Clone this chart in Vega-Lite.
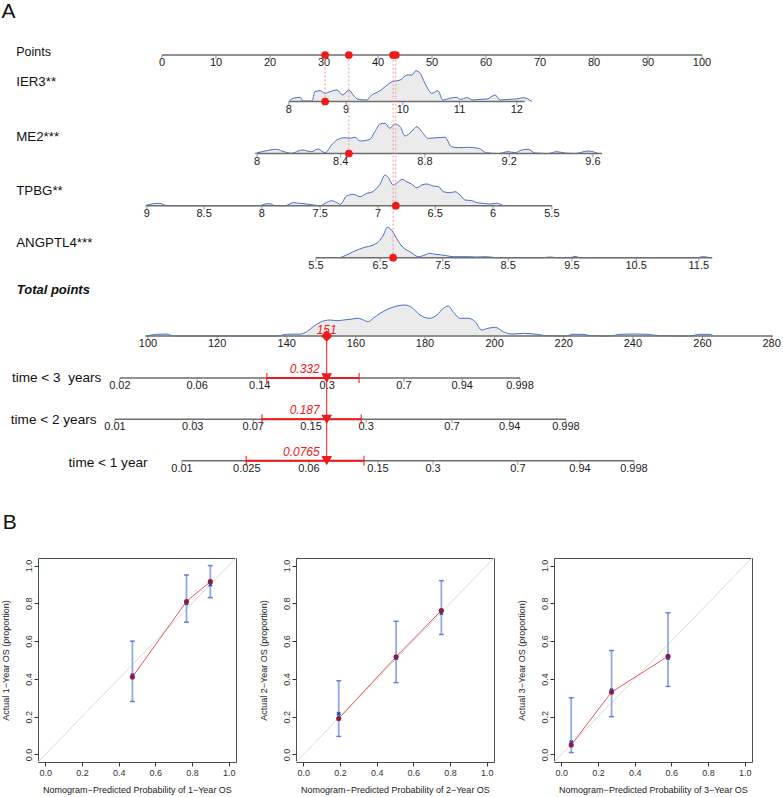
{
"$schema": "https://vega.github.io/schema/vega-lite/v6.json",
"padding": 0,
"background": "white",
"spacing": 5,
"datasets": {
"axes": [
{"row":"Points","from":0,"to":100,"y":55},
{"row":"IER3","from":23.5,"to":67.2,"y":101.5},
{"row":"ME2","from":17.6,"to":81.5,"y":153.5},
{"row":"TPBG","from":-2.8,"to":72.2,"y":205.7},
{"row":"ANGPTL4","from":28.5,"to":101.9,"y":257.7},
{"row":"Total","from":-3.1,"to":113.1,"y":336},
{"row":"t3","from":-7.8,"to":66.3,"y":378},
{"row":"t2","from":-8.7,"to":74.8,"y":419.3},
{"row":"t1","from":3.7,"to":87.4,"y":460.7}
],
"ticks": [
{"row":"Points","p":0,"label":"0"},{"row":"Points","p":10,"label":"10"},{"row":"Points","p":20,"label":"20"},{"row":"Points","p":30,"label":"30"},{"row":"Points","p":40,"label":"40"},{"row":"Points","p":50,"label":"50"},{"row":"Points","p":60,"label":"60"},{"row":"Points","p":70,"label":"70"},{"row":"Points","p":80,"label":"80"},{"row":"Points","p":90,"label":"90"},{"row":"Points","p":100,"label":"100"},
{"row":"IER3","p":23.5,"label":"8"},{"row":"IER3","p":34.1,"label":"9"},{"row":"IER3","p":44.6,"label":"10"},{"row":"IER3","p":55.1,"label":"11"},{"row":"IER3","p":65.7,"label":"12"},
{"row":"ME2","p":17.6,"label":"8"},{"row":"ME2","p":33.1,"label":"8.4"},{"row":"ME2","p":48.7,"label":"8.8"},{"row":"ME2","p":64.3,"label":"9.2"},{"row":"ME2","p":79.8,"label":"9.6"},
{"row":"TPBG","p":-2.8,"label":"9"},{"row":"TPBG","p":7.8,"label":"8.5"},{"row":"TPBG","p":18.5,"label":"8"},{"row":"TPBG","p":29.3,"label":"7.5"},{"row":"TPBG","p":40.0,"label":"7"},{"row":"TPBG","p":50.6,"label":"6.5"},{"row":"TPBG","p":61.3,"label":"6"},{"row":"TPBG","p":72.2,"label":"5.5"},
{"row":"ANGPTL4","p":28.5,"label":"5.5"},{"row":"ANGPTL4","p":40.4,"label":"6.5"},{"row":"ANGPTL4","p":52.0,"label":"7.5"},{"row":"ANGPTL4","p":64.1,"label":"8.5"},{"row":"ANGPTL4","p":75.9,"label":"9.5"},{"row":"ANGPTL4","p":87.8,"label":"10.5"},{"row":"ANGPTL4","p":99.4,"label":"11.5"},
{"row":"Total","p":-2.6,"label":"100"},{"row":"Total","p":10.2,"label":"120"},{"row":"Total","p":23.1,"label":"140"},{"row":"Total","p":35.9,"label":"160"},{"row":"Total","p":48.7,"label":"180"},{"row":"Total","p":61.6,"label":"200"},{"row":"Total","p":74.4,"label":"220"},{"row":"Total","p":87.2,"label":"240"},{"row":"Total","p":100.1,"label":"260"},{"row":"Total","p":112.9,"label":"280"},
{"row":"t3","p":-7.8,"label":"0.02"},{"row":"t3","p":6.5,"label":"0.06"},{"row":"t3","p":18.1,"label":"0.14"},{"row":"t3","p":30.6,"label":"0.3"},{"row":"t3","p":44.8,"label":"0.7"},{"row":"t3","p":55.6,"label":"0.94"},{"row":"t3","p":66.3,"label":"0.998"},
{"row":"t2","p":-8.7,"label":"0.01"},{"row":"t2","p":5.7,"label":"0.03"},{"row":"t2","p":16.9,"label":"0.07"},{"row":"t2","p":27.6,"label":"0.15"},{"row":"t2","p":37.8,"label":"0.3"},{"row":"t2","p":53.7,"label":"0.7"},{"row":"t2","p":64.4,"label":"0.94"},{"row":"t2","p":74.8,"label":"0.998"},
{"row":"t1","p":3.7,"label":"0.01"},{"row":"t1","p":15.7,"label":"0.025"},{"row":"t1","p":27.2,"label":"0.06"},{"row":"t1","p":40.0,"label":"0.15"},{"row":"t1","p":50.2,"label":"0.3"},{"row":"t1","p":65.9,"label":"0.7"},{"row":"t1","p":77.4,"label":"0.94"},{"row":"t1","p":87.4,"label":"0.998"}
],
"dens": [
{"row":"IER3","p":23.5,"y":101.5},{"row":"IER3","p":24.3,"y":98.3},{"row":"IER3","p":25.6,"y":97.3},{"row":"IER3","p":26.1,"y":101},{"row":"IER3","p":27.8,"y":101},{"row":"IER3","p":28.3,"y":91.7},{"row":"IER3","p":29.3,"y":90.7},{"row":"IER3","p":30.2,"y":93.3},{"row":"IER3","p":31.1,"y":91.7},{"row":"IER3","p":32.4,"y":90},{"row":"IER3","p":33.5,"y":95},{"row":"IER3","p":34.6,"y":90},{"row":"IER3","p":35.4,"y":95},{"row":"IER3","p":36.3,"y":99.3},{"row":"IER3","p":38.0,"y":100},{"row":"IER3","p":38.5,"y":96.7},{"row":"IER3","p":40.4,"y":90.7},{"row":"IER3","p":41.7,"y":85},{"row":"IER3","p":42.6,"y":81.7},{"row":"IER3","p":44.1,"y":80},{"row":"IER3","p":45.4,"y":75},{"row":"IER3","p":46.3,"y":75},{"row":"IER3","p":47.0,"y":70.7},{"row":"IER3","p":47.8,"y":73.3},{"row":"IER3","p":48.7,"y":83.3},{"row":"IER3","p":50.0,"y":93.3},{"row":"IER3","p":51.1,"y":90.7},{"row":"IER3","p":52.0,"y":100},{"row":"IER3","p":53.3,"y":98.3},{"row":"IER3","p":54.6,"y":97.3},{"row":"IER3","p":55.2,"y":99.3},{"row":"IER3","p":56.5,"y":97.7},{"row":"IER3","p":57.6,"y":100},{"row":"IER3","p":58.9,"y":99.3},{"row":"IER3","p":60.2,"y":99},{"row":"IER3","p":61.7,"y":95},{"row":"IER3","p":62.6,"y":100},{"row":"IER3","p":64.4,"y":99.3},{"row":"IER3","p":65.7,"y":99},{"row":"IER3","p":66.9,"y":97.7},{"row":"IER3","p":68.5,"y":101.5},
{"row":"ME2","p":17.2,"y":153.5},{"row":"ME2","p":19.1,"y":151},{"row":"ME2","p":21.2,"y":149.3},{"row":"ME2","p":22.2,"y":151},{"row":"ME2","p":24.0,"y":153.3},{"row":"ME2","p":25.9,"y":150},{"row":"ME2","p":27.7,"y":151.7},{"row":"ME2","p":28.9,"y":149},{"row":"ME2","p":30.2,"y":152.7},{"row":"ME2","p":31.4,"y":145},{"row":"ME2","p":32.6,"y":139.3},{"row":"ME2","p":33.9,"y":137.7},{"row":"ME2","p":34.8,"y":138.3},{"row":"ME2","p":35.7,"y":137.3},{"row":"ME2","p":36.7,"y":141},{"row":"ME2","p":38.5,"y":139.3},{"row":"ME2","p":39.4,"y":131.7},{"row":"ME2","p":40.4,"y":124},{"row":"ME2","p":41.3,"y":123.3},{"row":"ME2","p":42.2,"y":128.3},{"row":"ME2","p":43.1,"y":124},{"row":"ME2","p":44.1,"y":126.7},{"row":"ME2","p":45.0,"y":136},{"row":"ME2","p":46.2,"y":131.7},{"row":"ME2","p":47.2,"y":126.7},{"row":"ME2","p":48.1,"y":131.7},{"row":"ME2","p":49.3,"y":138.3},{"row":"ME2","p":50.9,"y":137.7},{"row":"ME2","p":52.4,"y":137.3},{"row":"ME2","p":53.6,"y":146.7},{"row":"ME2","p":54.9,"y":147.7},{"row":"ME2","p":56.7,"y":147.3},{"row":"ME2","p":58.6,"y":148.3},{"row":"ME2","p":60.1,"y":152.7},{"row":"ME2","p":62.3,"y":153.5},{"row":"ME2","p":64.1,"y":151.7},{"row":"ME2","p":65.4,"y":152.7},{"row":"ME2","p":66.6,"y":150},{"row":"ME2","p":67.8,"y":149.3},{"row":"ME2","p":69.1,"y":153},{"row":"ME2","p":71.5,"y":153.5},{"row":"ME2","p":73.1,"y":151.7},{"row":"ME2","p":74.6,"y":153},{"row":"ME2","p":76.5,"y":153.5},{"row":"ME2","p":78.9,"y":151},{"row":"ME2","p":80.8,"y":153.5},
{"row":"TPBG","p":-3.1,"y":205.7},{"row":"TPBG","p":-1.6,"y":203.7},{"row":"TPBG","p":-0.4,"y":203.3},{"row":"TPBG","p":0.9,"y":205.7},{"row":"TPBG","p":18.1,"y":205.7},{"row":"TPBG","p":19.1,"y":204},{"row":"TPBG","p":20.0,"y":203.7},{"row":"TPBG","p":20.9,"y":205.7},{"row":"TPBG","p":22.8,"y":205.7},{"row":"TPBG","p":24.3,"y":202.7},{"row":"TPBG","p":25.6,"y":203.3},{"row":"TPBG","p":26.8,"y":204},{"row":"TPBG","p":28.0,"y":205},{"row":"TPBG","p":29.3,"y":205.7},{"row":"TPBG","p":30.2,"y":203.3},{"row":"TPBG","p":31.4,"y":200.7},{"row":"TPBG","p":32.4,"y":202.7},{"row":"TPBG","p":33.0,"y":204.3},{"row":"TPBG","p":34.2,"y":196},{"row":"TPBG","p":35.4,"y":194.3},{"row":"TPBG","p":36.7,"y":196.7},{"row":"TPBG","p":37.9,"y":193.3},{"row":"TPBG","p":38.8,"y":192.3},{"row":"TPBG","p":39.4,"y":190},{"row":"TPBG","p":40.4,"y":184},{"row":"TPBG","p":41.3,"y":175},{"row":"TPBG","p":41.9,"y":177.3},{"row":"TPBG","p":42.8,"y":185},{"row":"TPBG","p":43.8,"y":181.7},{"row":"TPBG","p":44.4,"y":179.3},{"row":"TPBG","p":45.3,"y":181.7},{"row":"TPBG","p":46.2,"y":184},{"row":"TPBG","p":47.2,"y":187.7},{"row":"TPBG","p":48.1,"y":185},{"row":"TPBG","p":49.0,"y":184},{"row":"TPBG","p":50.2,"y":186},{"row":"TPBG","p":51.2,"y":186.7},{"row":"TPBG","p":52.1,"y":191.7},{"row":"TPBG","p":53.3,"y":192.7},{"row":"TPBG","p":54.3,"y":191.7},{"row":"TPBG","p":55.2,"y":195},{"row":"TPBG","p":56.1,"y":200},{"row":"TPBG","p":57.4,"y":200.7},{"row":"TPBG","p":58.3,"y":202.7},{"row":"TPBG","p":59.5,"y":203.3},{"row":"TPBG","p":60.7,"y":204},{"row":"TPBG","p":62.0,"y":203.3},{"row":"TPBG","p":63.2,"y":205.7},
{"row":"ANGPTL4","p":33.0,"y":257.7},{"row":"ANGPTL4","p":34.2,"y":255},{"row":"ANGPTL4","p":35.4,"y":251.7},{"row":"ANGPTL4","p":37.3,"y":247.7},{"row":"ANGPTL4","p":39.1,"y":245},{"row":"ANGPTL4","p":40.1,"y":241.7},{"row":"ANGPTL4","p":41.0,"y":235},{"row":"ANGPTL4","p":41.7,"y":227.3},{"row":"ANGPTL4","p":42.5,"y":230},{"row":"ANGPTL4","p":43.1,"y":235},{"row":"ANGPTL4","p":43.8,"y":241.7},{"row":"ANGPTL4","p":44.7,"y":247.7},{"row":"ANGPTL4","p":45.9,"y":251.7},{"row":"ANGPTL4","p":47.5,"y":256.7},{"row":"ANGPTL4","p":48.7,"y":255},{"row":"ANGPTL4","p":49.6,"y":253.3},{"row":"ANGPTL4","p":50.6,"y":254.3},{"row":"ANGPTL4","p":51.8,"y":255},{"row":"ANGPTL4","p":52.7,"y":255.7},{"row":"ANGPTL4","p":53.9,"y":256.7},{"row":"ANGPTL4","p":55.2,"y":256.7},{"row":"ANGPTL4","p":56.7,"y":256.7},{"row":"ANGPTL4","p":58.3,"y":257},{"row":"ANGPTL4","p":60.1,"y":256.7},{"row":"ANGPTL4","p":62.0,"y":257.7},{"row":"ANGPTL4","p":70.6,"y":257.7},{"row":"ANGPTL4","p":71.9,"y":257},{"row":"ANGPTL4","p":73.1,"y":257.7},{"row":"ANGPTL4","p":75.6,"y":257.7},{"row":"ANGPTL4","p":76.5,"y":256.3},{"row":"ANGPTL4","p":77.4,"y":257.7},{"row":"ANGPTL4","p":99.0,"y":257.7},{"row":"ANGPTL4","p":100.2,"y":256.7},{"row":"ANGPTL4","p":101.5,"y":257.7},
{"row":"Total","p":-2.8,"y":336},{"row":"Total","p":-1.0,"y":334.3},{"row":"Total","p":0.9,"y":334},{"row":"Total","p":2.1,"y":336},{"row":"Total","p":21.2,"y":336},{"row":"Total","p":23.1,"y":334.3},{"row":"Total","p":25.6,"y":334},{"row":"Total","p":26.8,"y":331.7},{"row":"Total","p":28.0,"y":326.7},{"row":"Total","p":29.3,"y":322.3},{"row":"Total","p":31.1,"y":320},{"row":"Total","p":32.4,"y":320.7},{"row":"Total","p":33.6,"y":320},{"row":"Total","p":34.8,"y":319.3},{"row":"Total","p":36.4,"y":318.3},{"row":"Total","p":37.3,"y":320},{"row":"Total","p":38.2,"y":321.7},{"row":"Total","p":39.1,"y":318.3},{"row":"Total","p":40.4,"y":313.3},{"row":"Total","p":42.2,"y":308.3},{"row":"Total","p":43.5,"y":306},{"row":"Total","p":45.0,"y":305},{"row":"Total","p":46.2,"y":307.3},{"row":"Total","p":47.8,"y":315},{"row":"Total","p":49.6,"y":318.3},{"row":"Total","p":50.9,"y":315},{"row":"Total","p":52.1,"y":308.3},{"row":"Total","p":53.0,"y":306},{"row":"Total","p":53.9,"y":311.7},{"row":"Total","p":55.2,"y":318.3},{"row":"Total","p":56.7,"y":318.3},{"row":"Total","p":58.0,"y":321.7},{"row":"Total","p":59.2,"y":330},{"row":"Total","p":60.4,"y":328.3},{"row":"Total","p":61.7,"y":327.3},{"row":"Total","p":63.2,"y":331.7},{"row":"Total","p":64.8,"y":334},{"row":"Total","p":66.9,"y":333.3},{"row":"Total","p":69.4,"y":334.3},{"row":"Total","p":71.2,"y":335.7},{"row":"Total","p":74.9,"y":336},{"row":"Total","p":75.9,"y":334.3},{"row":"Total","p":78.0,"y":334.3},{"row":"Total","p":79.3,"y":335.7},{"row":"Total","p":83.0,"y":336},{"row":"Total","p":84.8,"y":334.3},{"row":"Total","p":87.3,"y":334},{"row":"Total","p":89.8,"y":334.3},{"row":"Total","p":92.2,"y":335.7},{"row":"Total","p":97.8,"y":336},{"row":"Total","p":99.6,"y":334.3},{"row":"Total","p":101.5,"y":334.3},{"row":"Total","p":102.1,"y":336}
],
"rowlab": [
{"t":"Points","grp":"pts","p":-27,"y":51.5},
{"t":"IER3**","grp":"var","p":-27,"y":82},
{"t":"ME2***","grp":"var","p":-27,"y":137},
{"t":"TPBG**","grp":"var","p":-27,"y":190.5},
{"t":"ANGPTL4***","grp":"var","p":-27,"y":242.5},
{"t":"Total points","grp":"total","p":-26.9,"y":290},
{"t":"time < 3 \u00a0years","grp":"time","p":-27.8,"y":378},
{"t":"time < 2 years","grp":"time","p":-28,"y":420},
{"t":"time < 1 year","grp":"time","p":-17.3,"y":462.7},
{"t":"A","grp":"panel","p":-29.7,"y":12},
{"t":"B","grp":"panel","p":-29.5,"y":523}
],
"sel": [
{"row":"IER3","p":30.2},{"row":"ME2","p":34.6},{"row":"TPBG","p":43.3},{"row":"ANGPTL4","p":42.8}
],
"pred": [
{"row":"Total","p":30.5,"label":"151"},
{"row":"t3","p":30.5,"lo":19.4,"hi":36.5,"label":"0.332"},
{"row":"t2","p":30.5,"lo":18.5,"hi":36.9,"label":"0.187"},
{"row":"t1","p":30.5,"lo":15.6,"hi":37.4,"label":"0.0765"}
],
"diag": [{"pred":-0.04,"obs":-0.04},{"pred":1.04,"obs":1.04}],
"calib": [
{"year":1,"pred":0.475,"obs":0.41,"lo":0.28,"hi":0.60,"bc":0.42},
{"year":1,"pred":0.77,"obs":0.81,"lo":0.70,"hi":0.95,"bc":0.80},
{"year":1,"pred":0.90,"obs":0.915,"lo":0.83,"hi":1.0,"bc":0.90},
{"year":2,"pred":0.193,"obs":0.19,"lo":0.095,"hi":0.39,"bc":0.215},
{"year":2,"pred":0.506,"obs":0.517,"lo":0.38,"hi":0.705,"bc":0.51},
{"year":2,"pred":0.753,"obs":0.762,"lo":0.635,"hi":0.92,"bc":0.748},
{"year":3,"pred":0.054,"obs":0.05,"lo":0.01,"hi":0.30,"bc":0.065},
{"year":3,"pred":0.274,"obs":0.33,"lo":0.20,"hi":0.55,"bc":0.34},
{"year":3,"pred":0.582,"obs":0.52,"lo":0.36,"hi":0.75,"bc":0.51}
],
"rug": [
{"year":1,"pred":0.0},{"year":1,"pred":0.03},{"year":1,"pred":0.14},{"year":1,"pred":0.25},{"year":1,"pred":0.31},{"year":1,"pred":0.39},{"year":1,"pred":0.46},{"year":1,"pred":0.49},{"year":1,"pred":0.5},{"year":1,"pred":0.52},{"year":1,"pred":0.54},{"year":1,"pred":0.57},{"year":1,"pred":0.6},{"year":1,"pred":0.62},{"year":1,"pred":0.63},{"year":1,"pred":0.64},{"year":1,"pred":0.65},{"year":1,"pred":0.66},{"year":1,"pred":0.67},{"year":1,"pred":0.68},{"year":1,"pred":0.69},{"year":1,"pred":0.7},{"year":1,"pred":0.71},{"year":1,"pred":0.72},{"year":1,"pred":0.73},{"year":1,"pred":0.74},{"year":1,"pred":0.75},{"year":1,"pred":0.76},{"year":1,"pred":0.77},{"year":1,"pred":0.78},{"year":1,"pred":0.79},{"year":1,"pred":0.8},{"year":1,"pred":0.81},{"year":1,"pred":0.82},{"year":1,"pred":0.83},{"year":1,"pred":0.84},{"year":1,"pred":0.85},{"year":1,"pred":0.86},{"year":1,"pred":0.87},{"year":1,"pred":0.88},{"year":1,"pred":0.92},{"year":1,"pred":0.96},{"year":1,"pred":0.99},
{"year":2,"pred":0.0},{"year":2,"pred":0.02},{"year":2,"pred":0.04},{"year":2,"pred":0.1},{"year":2,"pred":0.13},{"year":2,"pred":0.17},{"year":2,"pred":0.19},{"year":2,"pred":0.2},{"year":2,"pred":0.22},{"year":2,"pred":0.24},{"year":2,"pred":0.26},{"year":2,"pred":0.27},{"year":2,"pred":0.29},{"year":2,"pred":0.3},{"year":2,"pred":0.32},{"year":2,"pred":0.33},{"year":2,"pred":0.35},{"year":2,"pred":0.36},{"year":2,"pred":0.38},{"year":2,"pred":0.39},{"year":2,"pred":0.41},{"year":2,"pred":0.42},{"year":2,"pred":0.44},{"year":2,"pred":0.45},{"year":2,"pred":0.47},{"year":2,"pred":0.48},{"year":2,"pred":0.5},{"year":2,"pred":0.51},{"year":2,"pred":0.53},{"year":2,"pred":0.54},{"year":2,"pred":0.56},{"year":2,"pred":0.57},{"year":2,"pred":0.59},{"year":2,"pred":0.6},{"year":2,"pred":0.62},{"year":2,"pred":0.63},{"year":2,"pred":0.65},{"year":2,"pred":0.66},{"year":2,"pred":0.68},{"year":2,"pred":0.69},{"year":2,"pred":0.71},{"year":2,"pred":0.72},{"year":2,"pred":0.74},{"year":2,"pred":0.75},{"year":2,"pred":0.77},{"year":2,"pred":0.78},{"year":2,"pred":0.8},{"year":2,"pred":0.82},{"year":2,"pred":0.84},{"year":2,"pred":0.88},{"year":2,"pred":0.9},{"year":2,"pred":0.98},
{"year":3,"pred":0.0},{"year":3,"pred":0.01},{"year":3,"pred":0.02},{"year":3,"pred":0.03},{"year":3,"pred":0.04},{"year":3,"pred":0.05},{"year":3,"pred":0.06},{"year":3,"pred":0.07},{"year":3,"pred":0.08},{"year":3,"pred":0.09},{"year":3,"pred":0.1},{"year":3,"pred":0.11},{"year":3,"pred":0.12},{"year":3,"pred":0.13},{"year":3,"pred":0.14},{"year":3,"pred":0.15},{"year":3,"pred":0.16},{"year":3,"pred":0.18},{"year":3,"pred":0.19},{"year":3,"pred":0.2},{"year":3,"pred":0.22},{"year":3,"pred":0.23},{"year":3,"pred":0.25},{"year":3,"pred":0.27},{"year":3,"pred":0.28},{"year":3,"pred":0.3},{"year":3,"pred":0.32},{"year":3,"pred":0.34},{"year":3,"pred":0.36},{"year":3,"pred":0.38},{"year":3,"pred":0.4},{"year":3,"pred":0.43},{"year":3,"pred":0.46},{"year":3,"pred":0.49},{"year":3,"pred":0.52},{"year":3,"pred":0.56},{"year":3,"pred":0.6},{"year":3,"pred":0.64},{"year":3,"pred":0.74},{"year":3,"pred":0.83}
]
},
"vconcat": [
{
"width": 745, "height": 550,
"view": {"stroke": null},
"layer": [
{"data":{"name":"dens"},
 "transform":[{"lookup":"row","from":{"data":{"name":"axes"},"key":"row","fields":["y"]},"as":["base"]}],
 "mark":{"type":"area","color":"#ebebeb","opacity":1,"interpolate":"monotone"},
 "encoding":{
  "x":{"field":"p","type":"quantitative","scale":{"domain":[-22.963,115],"nice":false,"zero":false},"axis":null},
  "y":{"field":"y","type":"quantitative","stack":null,"scale":{"domain":[0,550],"reverse":true,"nice":false,"zero":false},"axis":null},
  "y2":{"field":"base"},
  "detail":{"field":"row"}}},
{"data":{"name":"dens"},
 "mark":{"type":"line","color":"#4a6fc4","strokeWidth":1,"interpolate":"monotone"},
 "encoding":{
  "x":{"field":"p","type":"quantitative","scale":{"domain":[-22.963,115],"nice":false,"zero":false},"axis":null},
  "y":{"field":"y","type":"quantitative","scale":{"domain":[0,550],"reverse":true,"nice":false,"zero":false},"axis":null},
  "detail":{"field":"row"}}},
{"data":{"name":"axes"},
 "mark":{"type":"rule","color":"#6e6e6e","strokeWidth":1.5},
 "encoding":{
  "x":{"field":"from","type":"quantitative","scale":{"domain":[-22.963,115],"nice":false,"zero":false},"axis":null},
  "x2":{"field":"to"},
  "y":{"field":"y","type":"quantitative","scale":{"domain":[0,550],"reverse":true,"nice":false,"zero":false},"axis":null}}},
{"data":{"name":"ticks"},
 "transform":[{"lookup":"row","from":{"data":{"name":"axes"},"key":"row","fields":["y"]}}],
 "mark":{"type":"tick","orient":"vertical","size":4,"thickness":1,"color":"#6e6e6e","yOffset":2},
 "encoding":{
  "x":{"field":"p","type":"quantitative","scale":{"domain":[-22.963,115],"nice":false,"zero":false},"axis":null},
  "y":{"field":"y","type":"quantitative","scale":{"domain":[0,550],"reverse":true,"nice":false,"zero":false},"axis":null}}},
{"data":{"name":"ticks"},
 "transform":[{"lookup":"row","from":{"data":{"name":"axes"},"key":"row","fields":["y"]}}],
 "mark":{"type":"text","baseline":"top","dy":2,"fontSize":11,"color":"#1a1a1a"},
 "encoding":{
  "x":{"field":"p","type":"quantitative","scale":{"domain":[-22.963,115],"nice":false,"zero":false},"axis":null},
  "y":{"field":"y","type":"quantitative","scale":{"domain":[0,550],"reverse":true,"nice":false,"zero":false},"axis":null},
  "text":{"field":"label"}}},
{"data":{"name":"rowlab"},
 "transform":[{"filter":"datum.grp === 'pts'"}],
 "mark":{"type":"text","align":"left","baseline":"middle","fontSize":12.5,"color":"#111"},
 "encoding":{
  "x":{"field":"p","type":"quantitative","scale":{"domain":[-22.963,115],"nice":false,"zero":false},"axis":null},
  "y":{"field":"y","type":"quantitative","scale":{"domain":[0,550],"reverse":true,"nice":false,"zero":false},"axis":null},
  "text":{"field":"t"}}},
{"data":{"name":"rowlab"},
 "transform":[{"filter":"datum.grp === 'var'"}],
 "mark":{"type":"text","align":"left","baseline":"middle","fontSize":13.3,"color":"#111"},
 "encoding":{
  "x":{"field":"p","type":"quantitative","scale":{"domain":[-22.963,115],"nice":false,"zero":false},"axis":null},
  "y":{"field":"y","type":"quantitative","scale":{"domain":[0,550],"reverse":true,"nice":false,"zero":false},"axis":null},
  "text":{"field":"t"}}},
{"data":{"name":"rowlab"},
 "transform":[{"filter":"datum.grp === 'total'"}],
 "mark":{"type":"text","align":"left","baseline":"middle","fontSize":13,"fontWeight":"bold","fontStyle":"italic","color":"#111"},
 "encoding":{
  "x":{"field":"p","type":"quantitative","scale":{"domain":[-22.963,115],"nice":false,"zero":false},"axis":null},
  "y":{"field":"y","type":"quantitative","scale":{"domain":[0,550],"reverse":true,"nice":false,"zero":false},"axis":null},
  "text":{"field":"t"}}},
{"data":{"name":"rowlab"},
 "transform":[{"filter":"datum.grp === 'time'"}],
 "mark":{"type":"text","align":"left","baseline":"middle","fontSize":13.6,"color":"#111"},
 "encoding":{
  "x":{"field":"p","type":"quantitative","scale":{"domain":[-22.963,115],"nice":false,"zero":false},"axis":null},
  "y":{"field":"y","type":"quantitative","scale":{"domain":[0,550],"reverse":true,"nice":false,"zero":false},"axis":null},
  "text":{"field":"t"}}},
{"data":{"name":"rowlab"},
 "transform":[{"filter":"datum.grp === 'panel'"}],
 "mark":{"type":"text","align":"left","baseline":"middle","fontSize":21,"color":"#111"},
 "encoding":{
  "x":{"field":"p","type":"quantitative","scale":{"domain":[-22.963,115],"nice":false,"zero":false},"axis":null},
  "y":{"field":"y","type":"quantitative","scale":{"domain":[0,550],"reverse":true,"nice":false,"zero":false},"axis":null},
  "text":{"field":"t"}}},
{"data":{"name":"sel"},
 "transform":[{"lookup":"row","from":{"data":{"name":"axes"},"key":"row","fields":["y"]}}],
 "mark":{"type":"rule","color":"#f29a9a","strokeWidth":1,"strokeDash":[2,2]},
 "encoding":{
  "x":{"field":"p","type":"quantitative","scale":{"domain":[-22.963,115],"nice":false,"zero":false},"axis":null},
  "y":{"field":"y","type":"quantitative","scale":{"domain":[0,550],"reverse":true,"nice":false,"zero":false},"axis":null},
  "y2":{"datum":55}}},
{"data":{"name":"sel"},
 "transform":[{"lookup":"row","from":{"data":{"name":"axes"},"key":"row","fields":["y"]}}],
 "mark":{"type":"point","shape":"circle","filled":true,"size":60,"color":"#f01818","opacity":1},
 "encoding":{
  "x":{"field":"p","type":"quantitative","scale":{"domain":[-22.963,115],"nice":false,"zero":false},"axis":null},
  "y":{"field":"y","type":"quantitative","scale":{"domain":[0,550],"reverse":true,"nice":false,"zero":false},"axis":null}}},
{"data":{"name":"sel"},
 "mark":{"type":"point","shape":"circle","filled":true,"size":60,"color":"#f01818","opacity":1},
 "encoding":{
  "x":{"field":"p","type":"quantitative","scale":{"domain":[-22.963,115],"nice":false,"zero":false},"axis":null},
  "y":{"datum":55,"type":"quantitative","scale":{"domain":[0,550],"reverse":true,"nice":false,"zero":false},"axis":null}}},
{"data":{"name":"pred"},
 "transform":[{"lookup":"row","from":{"data":{"name":"axes"},"key":"row","fields":["y"]}}],
 "mark":{"type":"rule","color":"#f01818","strokeWidth":1},
 "encoding":{
  "x":{"aggregate":"min","field":"p","type":"quantitative","scale":{"domain":[-22.963,115],"nice":false,"zero":false},"axis":null},
  "y":{"aggregate":"min","field":"y","type":"quantitative","scale":{"domain":[0,550],"reverse":true,"nice":false,"zero":false},"axis":null},
  "y2":{"aggregate":"max","field":"y"}}},
{"data":{"name":"pred"},
 "transform":[{"filter":"isValid(datum.lo)"},{"lookup":"row","from":{"data":{"name":"axes"},"key":"row","fields":["y"]}}],
 "mark":{"type":"rule","color":"#f01818","strokeWidth":2},
 "encoding":{
  "x":{"field":"lo","type":"quantitative","scale":{"domain":[-22.963,115],"nice":false,"zero":false},"axis":null},
  "x2":{"field":"hi"},
  "y":{"field":"y","type":"quantitative","scale":{"domain":[0,550],"reverse":true,"nice":false,"zero":false},"axis":null}}},
{"data":{"name":"pred"},
 "transform":[{"filter":"isValid(datum.lo)"},{"lookup":"row","from":{"data":{"name":"axes"},"key":"row","fields":["y"]}},{"fold":["lo","hi"],"as":["k","v"]}],
 "mark":{"type":"tick","orient":"vertical","size":10,"thickness":1.5,"color":"#f01818"},
 "encoding":{
  "x":{"field":"v","type":"quantitative","scale":{"domain":[-22.963,115],"nice":false,"zero":false},"axis":null},
  "y":{"field":"y","type":"quantitative","scale":{"domain":[0,550],"reverse":true,"nice":false,"zero":false},"axis":null}}},
{"data":{"name":"pred"},
 "transform":[{"filter":"isValid(datum.lo)"},{"lookup":"row","from":{"data":{"name":"axes"},"key":"row","fields":["y"]}}],
 "mark":{"type":"point","shape":"triangle-down","filled":true,"size":115,"color":"#f01818","opacity":1},
 "encoding":{
  "x":{"field":"p","type":"quantitative","scale":{"domain":[-22.963,115],"nice":false,"zero":false},"axis":null},
  "y":{"field":"y","type":"quantitative","scale":{"domain":[0,550],"reverse":true,"nice":false,"zero":false},"axis":null}}},
{"data":{"name":"pred"},
 "transform":[{"filter":"datum.row === 'Total'"},{"lookup":"row","from":{"data":{"name":"axes"},"key":"row","fields":["y"]}}],
 "mark":{"type":"point","shape":"diamond","filled":true,"size":130,"color":"#f01818","opacity":1},
 "encoding":{
  "x":{"field":"p","type":"quantitative","scale":{"domain":[-22.963,115],"nice":false,"zero":false},"axis":null},
  "y":{"field":"y","type":"quantitative","scale":{"domain":[0,550],"reverse":true,"nice":false,"zero":false},"axis":null}}},
{"data":{"name":"pred"},
 "transform":[{"filter":"isValid(datum.lo)"},{"lookup":"row","from":{"data":{"name":"axes"},"key":"row","fields":["y"]}}],
 "mark":{"type":"text","align":"right","baseline":"middle","dx":-7,"dy":-9,"fontSize":12,"fontStyle":"italic","color":"#f01818"},
 "encoding":{
  "x":{"field":"p","type":"quantitative","scale":{"domain":[-22.963,115],"nice":false,"zero":false},"axis":null},
  "y":{"field":"y","type":"quantitative","scale":{"domain":[0,550],"reverse":true,"nice":false,"zero":false},"axis":null},
  "text":{"field":"label"}}},
{"data":{"name":"pred"},
 "transform":[{"filter":"datum.row === 'Total'"},{"lookup":"row","from":{"data":{"name":"axes"},"key":"row","fields":["y"]}}],
 "mark":{"type":"text","align":"center","baseline":"middle","dy":-6,"fontSize":12,"fontStyle":"italic","color":"#f01818"},
 "encoding":{
  "x":{"field":"p","type":"quantitative","scale":{"domain":[-22.963,115],"nice":false,"zero":false},"axis":null},
  "y":{"field":"y","type":"quantitative","scale":{"domain":[0,550],"reverse":true,"nice":false,"zero":false},"axis":null},
  "text":{"field":"label"}}}
]
},
{
"spacing": 19,
"hconcat": [
{
"width": 198, "height": 204,
"encoding": {
 "x":{"field":"pred","type":"quantitative","scale":{"domain":[-0.04,1.04],"nice":false,"zero":false},"axis":{"values":[0,0.2,0.4,0.6,0.8,1],"format":".1f"},"title":"Nomogram−Predicted Probability of 1−Year OS"},
 "y":{"field":"obs","type":"quantitative","scale":{"domain":[-0.04,1.04],"nice":false,"zero":false},"axis":{"values":[0,0.2,0.4,0.6,0.8,1],"format":".1f"},"title":"Actual 1−Year OS (proportion)"}
},
"layer": [
 {"data":{"name":"diag"},"mark":{"type":"line","color":"#dadada","strokeWidth":1}},
 {"data":{"name":"rug"},"transform":[{"filter":"datum.year === 1"}],"mark":{"type":"rule","color":"#8f8f8f","strokeWidth":0.8},
  "encoding":{"y":{"datum":1.04,"type":"quantitative","scale":{"domain":[-0.04,1.04],"nice":false,"zero":false},"title":"Actual 1−Year OS (proportion)"},"y2":{"datum":1.016}}},
 {"data":{"name":"calib"},"transform":[{"filter":"datum.year === 1"}],"mark":{"type":"rule","color":"#8fa8e8","strokeWidth":1.8},
  "encoding":{"y":{"field":"lo","type":"quantitative","scale":{"domain":[-0.04,1.04],"nice":false,"zero":false},"title":"Actual 1−Year OS (proportion)"},"y2":{"field":"hi"}}},
 {"data":{"name":"calib"},"transform":[{"filter":"datum.year === 1"},{"fold":["lo","hi"],"as":["k","v"]}],"mark":{"type":"tick","orient":"horizontal","size":5,"thickness":1.5,"color":"#3053c4"},
  "encoding":{"y":{"field":"v","type":"quantitative","scale":{"domain":[-0.04,1.04],"nice":false,"zero":false},"title":"Actual 1−Year OS (proportion)"}}},
 {"data":{"name":"calib"},"transform":[{"filter":"datum.year === 1"}],"mark":{"type":"line","color":"#e05a5a","strokeWidth":1}},
 {"data":{"name":"calib"},"transform":[{"filter":"datum.year === 1"}],"mark":{"type":"point","shape":"cross","angle":45,"filled":true,"size":20,"color":"#2a4cc0","opacity":1},
  "encoding":{"y":{"field":"bc","type":"quantitative","scale":{"domain":[-0.04,1.04],"nice":false,"zero":false},"title":"Actual 1−Year OS (proportion)"}}},
 {"data":{"name":"calib"},"transform":[{"filter":"datum.year === 1"}],"mark":{"type":"point","shape":"circle","filled":true,"size":26,"color":"#8e1b3d","opacity":1}}
]
},
{
"width": 198, "height": 204,
"encoding": {
 "x":{"field":"pred","type":"quantitative","scale":{"domain":[-0.04,1.04],"nice":false,"zero":false},"axis":{"values":[0,0.2,0.4,0.6,0.8,1],"format":".1f"},"title":"Nomogram−Predicted Probability of 2−Year OS"},
 "y":{"field":"obs","type":"quantitative","scale":{"domain":[-0.04,1.04],"nice":false,"zero":false},"axis":{"values":[0,0.2,0.4,0.6,0.8,1],"format":".1f"},"title":"Actual 2−Year OS (proportion)"}
},
"layer": [
 {"data":{"name":"diag"},"mark":{"type":"line","color":"#dadada","strokeWidth":1}},
 {"data":{"name":"rug"},"transform":[{"filter":"datum.year === 2"}],"mark":{"type":"rule","color":"#8f8f8f","strokeWidth":0.8},
  "encoding":{"y":{"datum":1.04,"type":"quantitative","scale":{"domain":[-0.04,1.04],"nice":false,"zero":false},"title":"Actual 2−Year OS (proportion)"},"y2":{"datum":1.016}}},
 {"data":{"name":"calib"},"transform":[{"filter":"datum.year === 2"}],"mark":{"type":"rule","color":"#8fa8e8","strokeWidth":1.8},
  "encoding":{"y":{"field":"lo","type":"quantitative","scale":{"domain":[-0.04,1.04],"nice":false,"zero":false},"title":"Actual 2−Year OS (proportion)"},"y2":{"field":"hi"}}},
 {"data":{"name":"calib"},"transform":[{"filter":"datum.year === 2"},{"fold":["lo","hi"],"as":["k","v"]}],"mark":{"type":"tick","orient":"horizontal","size":5,"thickness":1.5,"color":"#3053c4"},
  "encoding":{"y":{"field":"v","type":"quantitative","scale":{"domain":[-0.04,1.04],"nice":false,"zero":false},"title":"Actual 2−Year OS (proportion)"}}},
 {"data":{"name":"calib"},"transform":[{"filter":"datum.year === 2"}],"mark":{"type":"line","color":"#e05a5a","strokeWidth":1}},
 {"data":{"name":"calib"},"transform":[{"filter":"datum.year === 2"}],"mark":{"type":"point","shape":"cross","angle":45,"filled":true,"size":20,"color":"#2a4cc0","opacity":1},
  "encoding":{"y":{"field":"bc","type":"quantitative","scale":{"domain":[-0.04,1.04],"nice":false,"zero":false},"title":"Actual 2−Year OS (proportion)"}}},
 {"data":{"name":"calib"},"transform":[{"filter":"datum.year === 2"}],"mark":{"type":"point","shape":"circle","filled":true,"size":26,"color":"#8e1b3d","opacity":1}}
]
},
{
"width": 198, "height": 204,
"encoding": {
 "x":{"field":"pred","type":"quantitative","scale":{"domain":[-0.04,1.04],"nice":false,"zero":false},"axis":{"values":[0,0.2,0.4,0.6,0.8,1],"format":".1f"},"title":"Nomogram−Predicted Probability of 3−Year OS"},
 "y":{"field":"obs","type":"quantitative","scale":{"domain":[-0.04,1.04],"nice":false,"zero":false},"axis":{"values":[0,0.2,0.4,0.6,0.8,1],"format":".1f"},"title":"Actual 3−Year OS (proportion)"}
},
"layer": [
 {"data":{"name":"diag"},"mark":{"type":"line","color":"#dadada","strokeWidth":1}},
 {"data":{"name":"rug"},"transform":[{"filter":"datum.year === 3"}],"mark":{"type":"rule","color":"#8f8f8f","strokeWidth":0.8},
  "encoding":{"y":{"datum":1.04,"type":"quantitative","scale":{"domain":[-0.04,1.04],"nice":false,"zero":false},"title":"Actual 3−Year OS (proportion)"},"y2":{"datum":1.016}}},
 {"data":{"name":"calib"},"transform":[{"filter":"datum.year === 3"}],"mark":{"type":"rule","color":"#8fa8e8","strokeWidth":1.8},
  "encoding":{"y":{"field":"lo","type":"quantitative","scale":{"domain":[-0.04,1.04],"nice":false,"zero":false},"title":"Actual 3−Year OS (proportion)"},"y2":{"field":"hi"}}},
 {"data":{"name":"calib"},"transform":[{"filter":"datum.year === 3"},{"fold":["lo","hi"],"as":["k","v"]}],"mark":{"type":"tick","orient":"horizontal","size":5,"thickness":1.5,"color":"#3053c4"},
  "encoding":{"y":{"field":"v","type":"quantitative","scale":{"domain":[-0.04,1.04],"nice":false,"zero":false},"title":"Actual 3−Year OS (proportion)"}}},
 {"data":{"name":"calib"},"transform":[{"filter":"datum.year === 3"}],"mark":{"type":"line","color":"#e05a5a","strokeWidth":1}},
 {"data":{"name":"calib"},"transform":[{"filter":"datum.year === 3"}],"mark":{"type":"point","shape":"cross","angle":45,"filled":true,"size":20,"color":"#2a4cc0","opacity":1},
  "encoding":{"y":{"field":"bc","type":"quantitative","scale":{"domain":[-0.04,1.04],"nice":false,"zero":false},"title":"Actual 3−Year OS (proportion)"}}},
 {"data":{"name":"calib"},"transform":[{"filter":"datum.year === 3"}],"mark":{"type":"point","shape":"circle","filled":true,"size":26,"color":"#8e1b3d","opacity":1}}
]
}
]
}
],
"config": {
 "font": "Liberation Sans",
 "view": {"stroke": "#4d4d4d", "strokeWidth": 1},
 "axis": {"domain": false, "grid": false, "ticks": true, "tickSize": 4, "tickColor": "#333333", "tickWidth": 1, "labelFontSize": 9, "labelColor": "#333333", "titleFontSize": 9, "titleFontWeight": "normal", "titleColor": "#222222", "labelFont": "Liberation Sans", "titleFont": "Liberation Sans"},
 "axisY": {"labelAngle": -90, "labelAlign": "center", "labelBaseline": "bottom", "labelPadding": 1, "minExtent": 24, "maxExtent": 24, "titlePadding": 4},
 "axisX": {"labelPadding": 2, "minExtent": 16, "maxExtent": 16, "titlePadding": 7}
}
}
